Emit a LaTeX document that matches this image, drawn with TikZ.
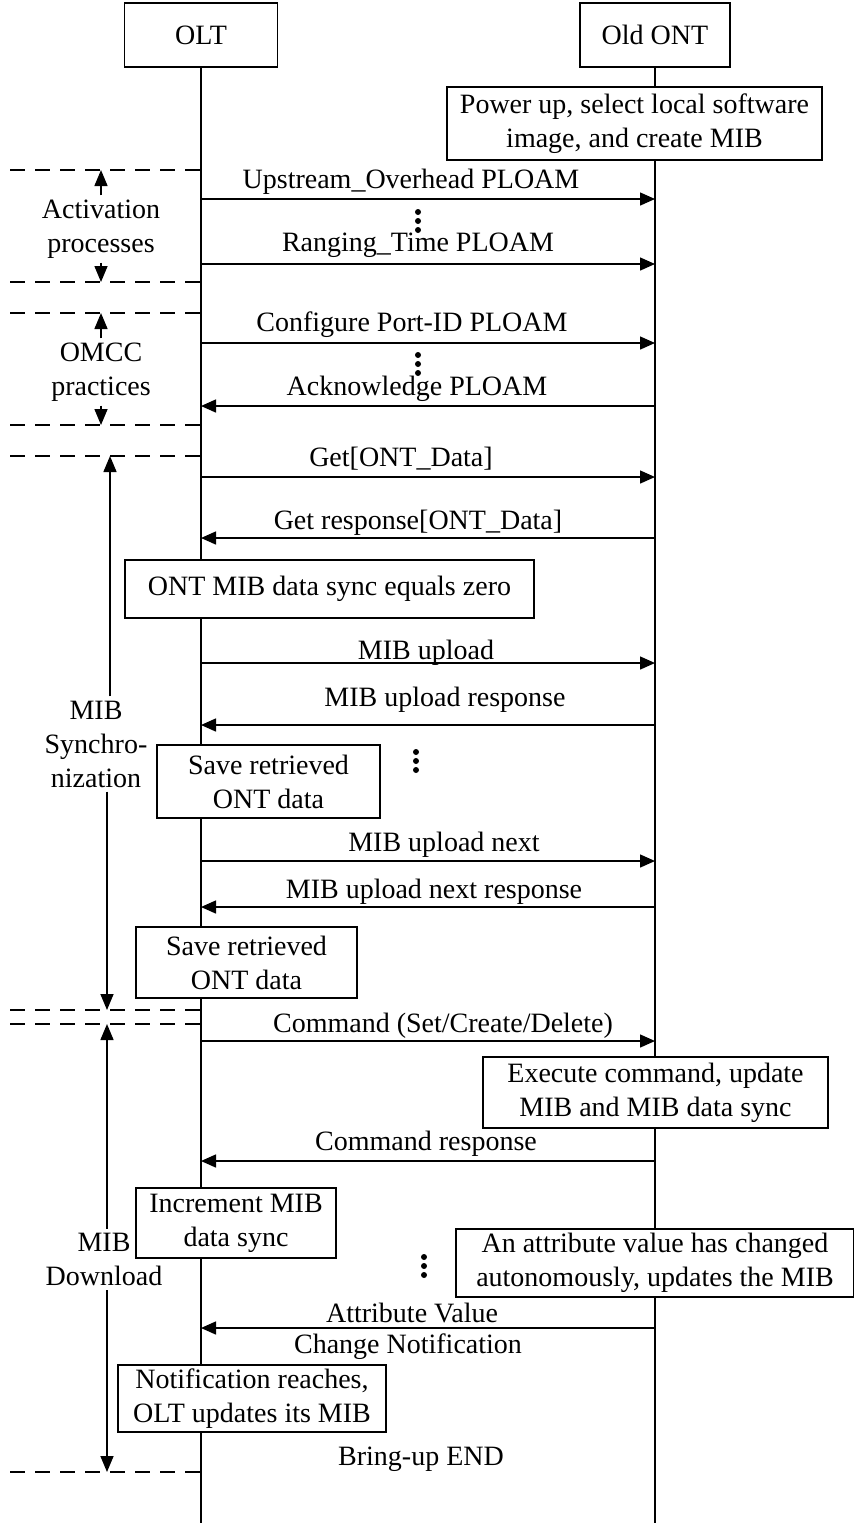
\documentclass[tikz,border=0pt]{standalone}
\usepackage{fontspec}
\setmainfont{Liberation Serif}
\usetikzlibrary{arrows.meta}
\tikzstyle{actor} = [draw=black, rectangle, fill=white, line width=0.75pt, minimum width=76.5pt, minimum height=32pt]
\tikzstyle{block} = [draw=black, rectangle, fill=white, line width=0.75pt, align=center, inner sep=0pt]
\tikzstyle{lifeline} = [line width=1pt]
\tikzstyle{msg} = [->, line width=0.75pt]
\tikzstyle{msgtext} = [inner sep=0pt, yshift=-1pt]
\tikzstyle{phase} = [dash pattern=on 7.5pt off 5pt, line width=0.6pt]
\tikzstyle{span} = [-{Triangle[length=8pt,width=6.5pt]}, line width=0.75pt]
\tikzstyle{phasetext} = [align=center, inner sep=2pt]

\begin{document}
\begin{tikzpicture}[x=0.5pt, y=-0.5pt, font=\fontsize{14}{17}\selectfont, >={Triangle[length=7.5pt,width=6.5pt]}]
	\useasboundingbox (0,0) rectangle (854,1523);

	% actors and lifelines
	\node[actor] (olt) at (201,35) {OLT};
	\node[actor, minimum width=75pt] (ont) at (655,35) {Old ONT};
	\coordinate (oltend) at (201,1523);
	\coordinate (ontend) at (655,1523);
	\draw[lifeline] (olt.south) -- (oltend);
	\draw[lifeline] (ont.south) -- (ontend);

	\node[block, minimum width=187.5pt, minimum height=36.5pt] (powerup) at (634.5,123.5) {Power up, select local software\\image, and create MIB};

	% activation
	\node[msgtext] (m1) at (411,180) {Upstream\_Overhead PLOAM};
	\draw[msg] (olt |- 0,199) -- (ont |- 0,199);
	\node[msgtext] (m2) at (418,243) {Ranging\_Time PLOAM};
	\draw[msg] (olt |- 0,264) -- (ont |- 0,264);

	% omcc
	\node[msgtext] (m3) at (412,323) {Configure Port-ID PLOAM};
	\draw[msg] (olt |- 0,343) -- (ont |- 0,343);
	\node[msgtext] (m4) at (417,387) {Acknowledge PLOAM};
	\draw[msg] (ont |- 0,406) -- (olt |- 0,406);

	% mib sync
	\node[msgtext] (m5) at (401,457) {Get[ONT\_Data]};
	\draw[msg] (olt |- 0,477) -- (ont |- 0,477);
	\node[msgtext] (m6) at (418,521) {Get response[ONT\_Data]};
	\draw[msg] (ont |- 0,538) -- (olt |- 0,538);
	\node[block, minimum width=204.5pt, minimum height=29pt] (synczero) at (329.5,589) {ONT MIB data sync equals zero};
	\node[msgtext] (m7) at (426,651) {MIB upload};
	\draw[msg] (olt |- 0,663) -- (ont |- 0,663);
	\node[msgtext] (m8) at (445,698) {MIB upload response};
	\draw[msg] (ont |- 0,725) -- (olt |- 0,725);
	\node[block, minimum width=111.5pt, minimum height=36.5pt] (save1) at (268.5,781.5) {Save retrieved\\ONT data};
	\node[msgtext] (m9) at (444,843) {MIB upload next};
	\draw[msg] (olt |- 0,861) -- (ont |- 0,861);
	\node[msgtext] (m10) at (434,890) {MIB upload next response};
	\draw[msg] (ont |- 0,907) -- (olt |- 0,907);
	\node[block, minimum width=110.5pt, minimum height=35.5pt] (save2) at (246.5,962.5) {Save retrieved\\ONT data};

	% mib download
	\node[msgtext] (m11) at (443,1024) {Command (Set/Create/Delete)};
	\draw[msg] (olt |- 0,1041) -- (ont |- 0,1041);
	\node[block, minimum width=172.5pt, minimum height=35.5pt] (execcmd) at (655.5,1092.5) {Execute command, update\\MIB and MIB data sync};
	\node[msgtext] (m12) at (426,1142) {Command response};
	\draw[msg] (ont |- 0,1161) -- (olt |- 0,1161);
	\node[block, minimum width=100pt, minimum height=35pt] (incr) at (236,1223) {Increment MIB\\data sync};
	\node[block, minimum width=199pt, minimum height=34pt] (attrchg) at (655,1263) {An attribute value has changed\\autonomously, updates the MIB};
	\node[msgtext] (m13) at (412,1311) {Attribute Value};
	\node[msgtext] (m13b) at (408,1345) {Change Notification};
	\draw[msg] (ont |- 0,1328) -- (olt |- 0,1328);
	\node[block, minimum width=134pt, minimum height=33.5pt] (notif) at (252,1398.5) {Notification reaches,\\OLT updates its MIB};
	\node[msgtext] (bringup) at (421,1457) {Bring-up END};

	% dots
	\foreach \x/\y in {418/212, 418/355, 416/752, 424/1257}
		\foreach \d in {0,9,18}
			\fill (\x,\y+\d) circle[radius=1.5pt];

	% phase markers
	\coordinate (actvtop) at (10,170);
	\coordinate (actvbot) at (10,282);
	\coordinate (omcctop) at (10,313);
	\coordinate (omccbot) at (10,425);
	\coordinate (synctop) at (10,456);
	\coordinate (syncbot) at (10,1010);
	\coordinate (dwnltop) at (10,1024);
	\coordinate (dwnlbot) at (10,1472);
	\foreach \c in {actvtop,actvbot,omcctop,omccbot,synctop,syncbot,dwnltop,dwnlbot}
		\draw[phase] (\c) -- (\c -| olt);

	\node[phasetext] (actv) at (101,229) {Activation\\processes};
	\draw[span] (actv.north) -- (actv.north |- actvtop);
	\draw[span] (actv.south) -- (actv.south |- actvbot);
	\node[phasetext] (omcc) at (101,372) {OMCC\\practices};
	\draw[span] (omcc.north) -- (omcc.north |- omcctop);
	\draw[span] (omcc.south) -- (omcc.south |- omccbot);
	\node[phasetext] (sync) at (96,744) {MIB\\Synchro-\\nization};
	\draw[span] ([xshift=7pt]sync.north) -- ([xshift=7pt]sync.north |- synctop);
	\draw[span] ([xshift=5.5pt]sync.south) -- ([xshift=5.5pt]sync.south |- syncbot);
	\node[phasetext] (dwnl) at (104,1259.5) {MIB\\Download};
	\draw[span] ([xshift=1.5pt]dwnl.north) -- ([xshift=1.5pt]dwnl.north |- dwnltop);
	\draw[span] ([xshift=1.5pt]dwnl.south) -- ([xshift=1.5pt]dwnl.south |- dwnlbot);
\end{tikzpicture}
\end{document}
